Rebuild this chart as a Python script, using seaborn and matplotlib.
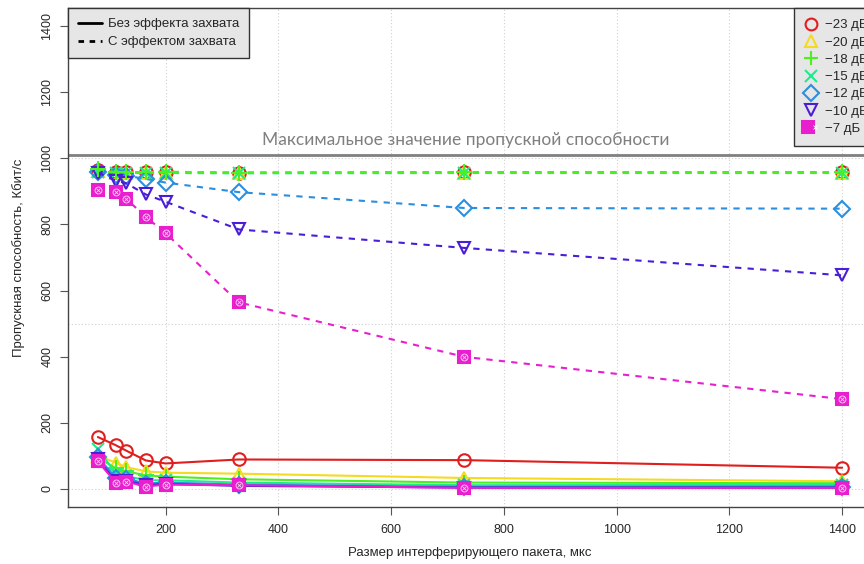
import numpy as np
import pandas as pd
import matplotlib
matplotlib.use("Agg")
import matplotlib.pyplot as plt
from matplotlib.lines import Line2D
from matplotlib.legend_handler import HandlerTuple
import seaborn as sns

# packet size, us
sizes = [80, 112, 130, 165, 200, 330, 730, 1400]

levels = ["\u221223 дБ", "\u221220 дБ", "\u221218 дБ", "\u221215 дБ",
          "\u221212 дБ", "\u221210 дБ", "\u22127 дБ"]

# with capture effect (dashed)
cap_23 = [965, 958, 958, 958, 958, 957, 958, 958]
cap_20 = [962, 957, 957, 957, 957, 956, 957, 957]
cap_18 = [968, 958, 958, 958, 960, 957, 958, 958]
cap_15 = [960, 956, 956, 956, 956, 955, 956, 956]
cap_12 = [958, 951, 948, 938, 927, 898, 850, 848]
cap_10 = [957, 933, 925, 891, 869, 785, 729, 646]
cap_7 = [905, 897, 878, 823, 774, 564, 399, 271]

# without capture effect (solid)
no_23 = [156, 131, 115, 85, 76, 88, 86, 63]
no_20 = [100, 78, 65, 52, 48, 45, 32, 22]
no_18 = [92, 62, 52, 40, 36, 28, 18, 16]
no_15 = [120, 45, 38, 25, 25, 18, 10, 11]
no_12 = [95, 32, 30, 15, 18, 12, 5, 6]
no_10 = [88, 22, 24, 10, 14, 8, 3, 3]
no_7 = [82, 18, 21, 6, 12, 10, 2, 2]

max_rate = 1010

cap_all = [cap_23, cap_20, cap_18, cap_15, cap_12, cap_10, cap_7]
no_all = [no_23, no_20, no_18, no_15, no_12, no_10, no_7]

colors = ["#E01E1E", "#F5DA20", "#4CF01E", "#1EEB8C", "#2A8FE0", "#4A1ED8", "#E81ECF"]
markers = ["o", "^", "+", "x", "D", "v", "s"]
msizes = [9, 9, 11, 9, 8.5, 9, 8.5]
# the -18 dB dashed line sits on top of the group near 960
cap_z = [3, 3, 3.6, 3.2, 3.3, 3.4, 3.5]

sns.set_style("white")
plt.rcParams["font.family"] = ["Liberation Sans", "DejaVu Sans"]

fig = plt.figure(figsize=(8.64, 5.64), dpi=100)
ax = fig.add_axes([68 / 864, 57 / 564, 804 / 864, 499 / 564])

# grid
for gx in range(200, 1401, 200):
    ax.axvline(gx, color="#D0D0D0", lw=0.8, ls=(0, (1, 2)), zorder=0)
for gy in [0, 500, 1000]:
    ax.axhline(gy, color="#D0D0D0", lw=0.8, ls=(0, (1, 2)), zorder=0)

ax.axhline(max_rate, color="#808080", lw=2, zorder=1)
ax.text(732, 1055, "Максимальное значение пропускной способности",
        ha="center", va="center", fontsize=12.5, color="#7F7F7F",
        family=["Lato", "DejaVu Sans"])


def draw(vals, i, ls, z):
    mfc = colors[i] if markers[i] == "s" else "none"
    sns.lineplot(x=sizes, y=vals, ax=ax, color=colors[i], lw=1.5,
                 linestyle=ls, marker=markers[i], markersize=msizes[i],
                 markerfacecolor=mfc, markeredgecolor=colors[i],
                 markeredgewidth=1.5, zorder=z)
    if markers[i] == "s":
        ax.plot(sizes, vals, ls="none", marker="o", markersize=5,
                markerfacecolor="none", markeredgecolor="white",
                markeredgewidth=0.6, alpha=0.8, zorder=z + 0.05)
        ax.plot(sizes, vals, ls="none", marker="x", markersize=3.5,
                markeredgecolor="white", markeredgewidth=0.6,
                alpha=0.8, zorder=z + 0.05)


for i in range(7):
    draw(cap_all[i], i, (0, (3, 3)), cap_z[i])
for i in range(7):
    draw(no_all[i], i, "-", 4 + i * 0.1)

ax.set_xlim(27, 1453)
ax.set_ylim(-56, 1456)
ax.set_xticks(range(200, 1401, 200))
ax.set_yticks(range(0, 1401, 200))
ax.tick_params(axis="both", direction="out", length=6, width=0.8,
               color="#555555", labelsize=9, left=True, bottom=True)
ax.tick_params(axis="x", pad=6.5)
ax.tick_params(axis="y", pad=4.5)
plt.setp(ax.get_yticklabels(), rotation=90, va="center")
for s in ax.spines.values():
    s.set_color("#444444")
    s.set_linewidth(1)

ax.set_xlabel("Размер интерферирующего пакета, мкс", fontsize=9.5, labelpad=8)
ax.set_ylabel("Пропускная способность, Кбит/с", fontsize=9.5, labelpad=12)

# legends
h1 = [Line2D([], [], color="black", lw=2),
      Line2D([], [], color="black", lw=2, ls=(0, (2, 2)))]
leg1 = ax.legend(h1, ["Без эффекта захвата", "С эффектом захвата"],
                 loc="upper left", borderaxespad=0, fancybox=False,
                 framealpha=1, facecolor="#E6E6E6", edgecolor="#333333",
                 fontsize=9.5, handlelength=1.8, handletextpad=0.5,
                 borderpad=0.75, labelspacing=0.45)
leg1.get_frame().set_linewidth(1)
ax.add_artist(leg1)

h2 = []
for i in range(7):
    mfc = colors[i] if markers[i] == "s" else "none"
    h = Line2D([], [], ls="none", marker=markers[i], markersize=msizes[i] - 0.5,
               markerfacecolor=mfc, markeredgecolor=colors[i], markeredgewidth=1.5)
    if markers[i] == "s":
        hx = Line2D([], [], ls="none", marker="x", markersize=3.5,
                    markeredgecolor="white", markeredgewidth=0.6)
        h = (h, hx)
    h2.append(h)
leg2 = ax.legend(h2, levels, loc="upper right", bbox_to_anchor=(1.008, 1.0),
                 borderaxespad=0, fancybox=False,
                 framealpha=1, facecolor="#E6E6E6", edgecolor="#333333",
                 fontsize=9.5, handlelength=1.0, handletextpad=0.5,
                 borderpad=0.85, labelspacing=0.38,
                 handler_map={tuple: HandlerTuple(ndivide=None, pad=0)})
leg2.get_frame().set_linewidth(1)

fig.savefig("out.png", dpi=100)
